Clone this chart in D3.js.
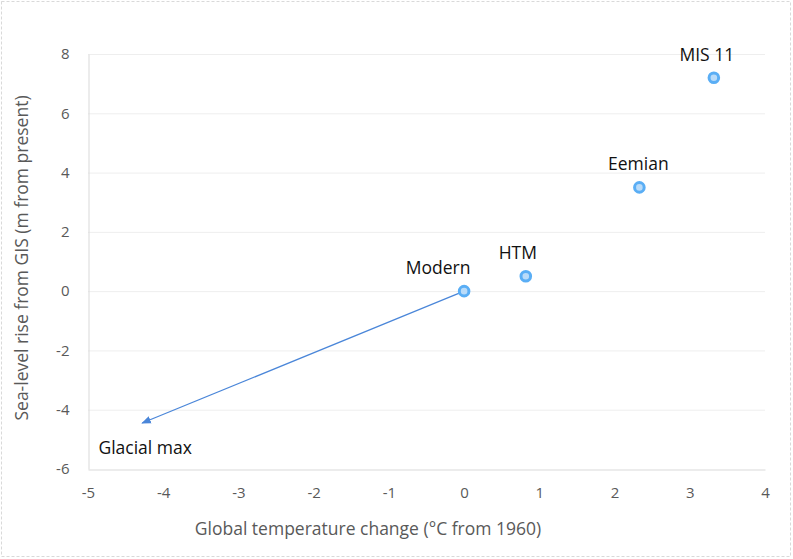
<!DOCTYPE html>
<html><head><meta charset="utf-8">
<script src="https://cdn.jsdelivr.net/npm/d3@7"></script>
<style>body{margin:0;background:#fff;}svg{display:block;}</style>
</head><body>
<svg id="c" width="793" height="559"></svg>
<script>
const names = ["Modern", "HTM", "Eemian", "MIS 11"];
const tempChange = [0, 0.82, 2.33, 3.32];
const seaLevel = [0, 0.5, 3.5, 7.2];
const arrowEnd = {label: "Glacial max", x: -4.28, y: -4.45};
const xTicks = [-5, -4, -3, -2, -1, 0, 1, 2, 3, 4];
const yTicks = [-6, -4, -2, 0, 2, 4, 6, 8];
const xTitle = "Global temperature change (°C from 1960)";
const yTitle = "Sea-level rise from GIS (m from present)";

const svg = d3.select("#c");
const font = "'Open Sans', 'Liberation Sans', sans-serif";
svg.append("rect").attr("x",1.5).attr("y",1.5).attr("width",789).attr("height",555)
  .attr("fill","#fff").attr("stroke","#d9d9d9").attr("stroke-dasharray","3,2");

const L=88, R=765, T=54, B=469;
const x = d3.scaleLinear().domain([-5,4]).range([L,R]);
const y = d3.scaleLinear().domain([-6,8]).range([B,T]);

// gridlines
svg.append("g").selectAll("line").data(yTicks.filter(v=>v!==-6)).join("line")
  .attr("x1",L).attr("x2",R).attr("y1",d=>y(d)+0.5).attr("y2",d=>y(d)+0.5)
  .attr("stroke","#eeeeee").attr("stroke-width",1);

// axes
const xa = svg.append("g").attr("transform",`translate(0,${B+0.5})`)
  .call(d3.axisBottom(x).tickValues(xTicks).tickSize(0).tickPadding(18).tickFormat(d=>d));
xa.select(".domain").attr("stroke","#d9d9d9");
xa.selectAll("text").attr("fill","#595959").style("font-family",font).style("font-size","15px");
const ya = svg.append("g").attr("transform",`translate(${L+0.5},0)`)
  .call(d3.axisLeft(y).tickValues(yTicks).tickSize(0).tickPadding(19).tickFormat(d=>d));
ya.select(".domain").attr("stroke","#d9d9d9");
ya.selectAll("text").attr("fill","#595959").style("font-family",font).style("font-size","15px");

// axis titles
svg.append("text").attr("x",368).attr("y",535).attr("text-anchor","middle")
  .attr("fill","#595959").style("font-family",font).style("font-size","17.5px").text(xTitle);
svg.append("text").attr("transform",`translate(28,258) rotate(-90)`).attr("text-anchor","middle")
  .attr("fill","#595959").style("font-family",font).style("font-size","17.5px").text(yTitle);

// arrow
const defs = svg.append("defs");
defs.append("marker").attr("id","ah").attr("viewBox","0 0 10 10").attr("refX",9).attr("refY",5)
  .attr("markerWidth",8).attr("markerHeight",8).attr("orient","auto-start-reverse")
  .append("path").attr("d","M0,1 L10,5 L0,9 Z").attr("fill","#4a86d9");
svg.append("line").attr("x1",x(0)).attr("y1",y(0)).attr("x2",x(arrowEnd.x)).attr("y2",y(arrowEnd.y))
  .attr("stroke","#4a86d9").attr("stroke-width",1.2).attr("marker-end","url(#ah)");
svg.append("text").attr("x",x(arrowEnd.x)+3).attr("y",y(arrowEnd.y)+31).attr("text-anchor","middle")
  .attr("fill","#111").style("font-family",font).style("font-size","17.5px").text(arrowEnd.label);

// points
const data = names.map((n,i)=>({n, x:tempChange[i], y:seaLevel[i]}));
const labelDx = [-26, -8, -1, -7];
svg.append("g").selectAll("circle").data(data).join("circle")
  .attr("cx",d=>x(d.x)).attr("cy",d=>y(d.y)).attr("r",4.8)
  .attr("fill","#b9dbf9").attr("stroke","#5aaef5").attr("stroke-width",3);
svg.append("g").selectAll("text").data(data).join("text")
  .attr("x",(d,i)=>x(d.x)+labelDx[i]).attr("y",d=>y(d.y)-17).attr("text-anchor","middle")
  .attr("fill","#111").style("font-family",font).style("font-size","17.5px").text(d=>d.n);
</script>
</body></html>
